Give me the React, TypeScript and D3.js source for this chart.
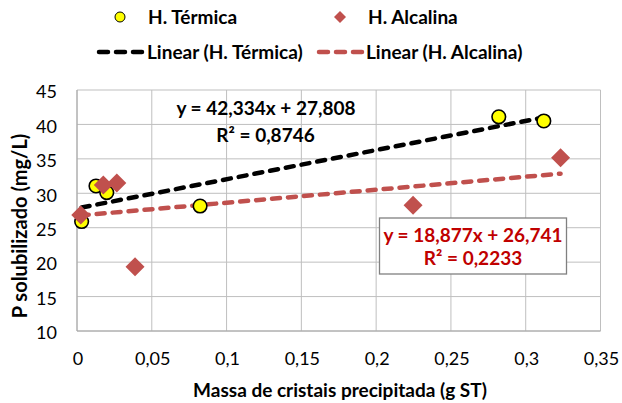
import React from "react";
import * as d3 from "d3";

const termicaX = [0.0031, 0.0127, 0.0199, 0.0823, 0.282, 0.3121];
const termicaY = [25.9, 31.06, 30.1, 28.15, 41.1, 40.5];
const alcalinaX = [0.0025, 0.0176, 0.0266, 0.0388, 0.2247, 0.3233];
const alcalinaY = [26.85, 31.2, 31.5, 19.34, 28.25, 35.17];
const xTicks = [0, 0.05, 0.1, 0.15, 0.2, 0.25, 0.3, 0.35];
const yTicks = [10, 15, 20, 25, 30, 35, 40, 45];
const fitTermica = { slope: 42.334, intercept: 27.808, r2: "0,8746", label: "y = 42,334x + 27,808" };
const fitAlcalina = { slope: 18.877, intercept: 26.741, r2: "0,2233", label: "y = 18,877x + 26,741" };

const W = 622, H = 403;
const FONT = "Lato, 'Open Sans', sans-serif";

export default function App() {
  const x = d3.scaleLinear().domain([0, 0.35]).range([77, 600.5]);
  const y = d3.scaleLinear().domain([10, 45]).range([331, 90]);
  const fmt = (v: number) => String(v).replace(".", ",");
  const trend = (xs: number[], f: { slope: number; intercept: number }) => {
    const x0 = d3.min(xs)!, x1 = d3.max(xs)!;
    return d3.line<[number, number]>().x((d) => x(d[0])).y((d) => y(d[1]))([
      [x0, f.slope * x0 + f.intercept],
      [x1, f.slope * x1 + f.intercept],
    ]) as string;
  };
  const diamond = (cx: number, cy: number, r: number) => `M${cx},${cy - r}L${cx + r},${cy}L${cx},${cy + r}L${cx - r},${cy}Z`;
  const gridColor = "#BFBFBF";
  const red = "#C0504D";
  return (
    <svg width={W} height={H} style={{ position: "absolute", left: 0, top: 0, background: "#fff" }} fontFamily={FONT}>
      <rect width={W} height={H} fill="#fff" />
      {/* gridlines */}
      {yTicks.map((t) => (
        <line key={"gy" + t} x1={x(0)} x2={x(0.35)} y1={y(t)} y2={y(t)} stroke={gridColor} strokeWidth={1} />
      ))}
      {xTicks.map((t) => (
        <line key={"gx" + t} x1={x(t)} x2={x(t)} y1={y(10)} y2={y(45)} stroke={gridColor} strokeWidth={1} />
      ))}
      <line x1={x(0)} x2={x(0)} y1={y(10)} y2={y(45)} stroke="#A6A6A6" />
      <line x1={x(0)} x2={x(0.35)} y1={y(10)} y2={y(10)} stroke="#A6A6A6" />
      {/* tick labels */}
      {yTicks.map((t) => (
        <text key={"ty" + t} x={57} y={y(t) + 2} dy="0.35em" textAnchor="end" fontSize={18} fill="#000">{t}</text>
      ))}
      {xTicks.map((t) => (
        <text key={"tx" + t} x={x(t) + 1} y={359} dy="0.35em" textAnchor="middle" fontSize={18} fill="#000">{fmt(t)}</text>
      ))}
      {/* axis titles */}
      <text x={340} y={397} textAnchor="middle" fontSize={19} fontWeight="bold">Massa de cristais precipitada (g ST)</text>
      <text transform={`translate(20,226) rotate(-90)`} dy="0.35em" textAnchor="middle" fontSize={20} fontWeight="bold">P solubilizado (mg/L)</text>
      {/* trend lines */}
      <path d={trend(termicaX, fitTermica)} stroke="#000" strokeWidth={4.5} strokeDasharray="8 8" strokeLinecap="round" fill="none" />
      <path d={trend(alcalinaX, fitAlcalina)} stroke={red} strokeWidth={4.5} strokeDasharray="8 8" strokeLinecap="round" fill="none" />
      {/* points */}
      {termicaX.map((v, i) => (
        <circle key={"t" + i} cx={x(v)} cy={y(termicaY[i])} r={6.8} fill="#FFFF00" stroke="#000" strokeWidth={1.6} />
      ))}
      {alcalinaX.map((v, i) => (
        <path key={"a" + i} d={diamond(x(v), y(alcalinaY[i]), 9.5)} fill={red} />
      ))}
      {/* equation labels */}
      <text x={266} y={115} textAnchor="middle" fontSize={19} fontWeight="bold">{fitTermica.label}</text>
      <text x={265.5} y={141.5} textAnchor="middle" fontSize={19} fontWeight="bold">R² = {fitTermica.r2}</text>
      <rect x={379.5} y={218} width={187} height={56} fill="#fff" stroke="#808080" strokeWidth={1.3} />
      <text x={473} y={241.5} textAnchor="middle" fontSize={19} fontWeight="bold" fill="#C00000">{fitAlcalina.label}</text>
      <text x={473} y={265} textAnchor="middle" fontSize={19} fontWeight="bold" fill="#C00000">R² = {fitAlcalina.r2}</text>
      {/* legend */}
      <circle cx={120} cy={17} r={5} fill="#FFFF00" stroke="#000" strokeWidth={1} />
      <text x={148} y={17} dy="0.35em" fontSize={19} fontWeight="bold">H. Térmica</text>
      <path d={diamond(340, 17, 6)} fill={red} />
      <text x={368} y={17} dy="0.35em" fontSize={19} fontWeight="bold">H. Alcalina</text>
      <line x1={99} x2={143} y1={52} y2={52} stroke="#000" strokeWidth={4.5} strokeDasharray="9 8" strokeLinecap="round" />
      <text x={147} y={52} dy="0.35em" fontSize={19} fontWeight="bold">Linear (H. Térmica)</text>
      <line x1={319} x2={362} y1={52} y2={52} stroke={red} strokeWidth={4.5} strokeDasharray="9 8" strokeLinecap="round" />
      <text x={366} y={52} dy="0.35em" fontSize={19} fontWeight="bold">Linear (H. Alcalina)</text>
    </svg>
  );
}
